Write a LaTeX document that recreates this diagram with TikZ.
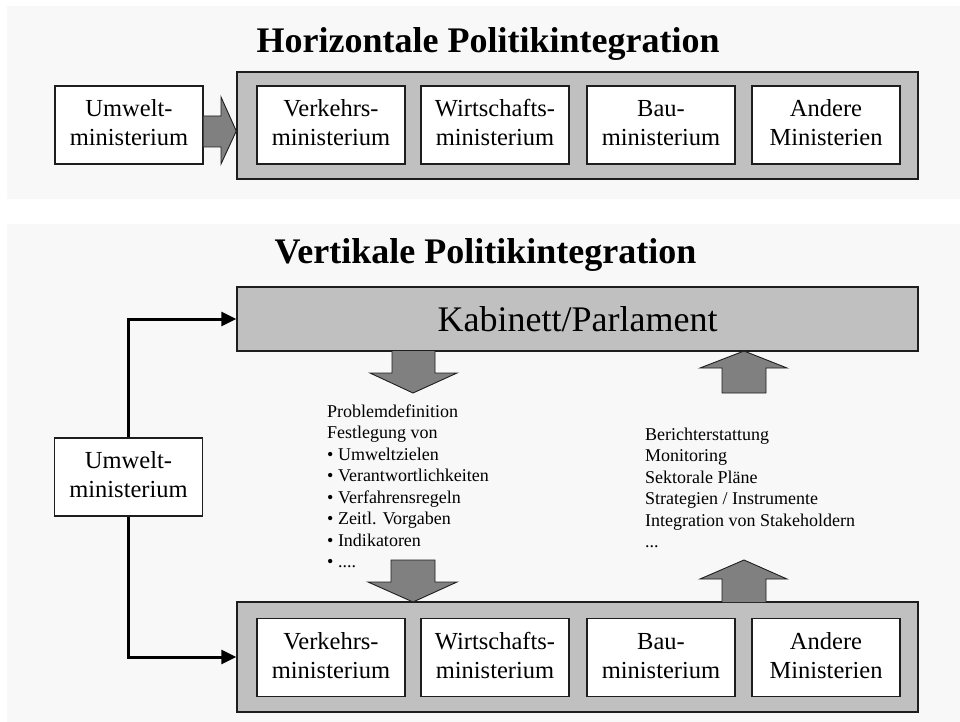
\documentclass[tikz,border=0pt]{standalone}
\usepackage{fontspec}
\setmainfont{Liberation Serif}
\usetikzlibrary{arrows.meta,calc}
\definecolor{panelbg}{HTML}{F8F8F8}
\definecolor{boxgray}{HTML}{C0C0C0}
\definecolor{arrowgray}{HTML}{808080}
\definecolor{edge}{HTML}{1E1E1E}
% two struts-aligned lines for the ministry boxes
\newcommand{\twolines}[2]{\rule[-7.5pt]{0pt}{27pt}#1\\\rule[-7.5pt]{0pt}{27pt}#2}
\begin{document}
\begin{tikzpicture}[x=1pt,y=-1pt,
  container/.style={draw=edge, fill=boxgray, line width=1.4pt, inner sep=0pt},
  ministry/.style={draw=edge, fill=white, line width=1.1pt, minimum width=148pt,
    minimum height=78pt, inner sep=0pt, align=center,
    font=\fontsize{24.5}{29}\selectfont},
  heading/.style={anchor=base, inner sep=0pt, font=\fontsize{36}{40}\selectfont\bfseries},
  blockarrow/.style={fill=arrowgray, draw=edge, line width=0.9pt, line join=miter},
  conn/.style={line width=3pt, draw=black, -{Triangle[length=15pt,width=14pt]}},
  listtext/.style={anchor=north west, align=left, inner sep=0pt,
    font=\fontsize{18}{21.5}\selectfont}]
\useasboundingbox (0,0) rectangle (960,722);

% background panels
\fill[panelbg] (7,6) rectangle (960,199);
\fill[panelbg] (7,224) rectangle (960,722);

% ---------------- horizontal integration ----------------
\node[heading] (htitle) at (488,53) {Horizontale Politikintegration};

\node[container, minimum width=681pt, minimum height=107pt] (hcont) at (577.5,125.5) {};
\node[ministry] (humw) at (129,125) {\twolines{Umwelt-}{ministerium}};
\node[ministry] (hverk) at (331,125) {\twolines{Verkehrs-}{ministerium}};
\node[ministry] (hwirt) at (495,125) {\twolines{Wirtschafts-}{ministerium}};
\node[ministry] (hbau)  at (661,125) {\twolines{Bau-}{ministerium}};
\node[ministry] (hand)  at (826,125) {\twolines{Andere}{Ministerien}};

% block arrow from the environment ministry into the group
\draw[blockarrow] (humw.east |- 0,116) -- (221,116) -- (221,97) -- (hcont.west |- 0,131)
  -- (221,164) -- (221,147) -- (humw.east |- 0,147);

% ---------------- vertical integration ----------------
\node[heading] (vtitle) at (485.5,263) {Vertikale Politikintegration};

\node[container, minimum width=681pt, minimum height=64pt,
  font=\fontsize{36}{40}\selectfont] (kab) at (577.5,319) {Kabinett/Parlament};

\node[container, minimum width=681pt, minimum height=110pt] (vcont) at (577.5,657) {};
\node[ministry] (vverk) at (331,657.5) {\twolines{Verkehrs-}{ministerium}};
\node[ministry] (vwirt) at (495,657.5) {\twolines{Wirtschafts-}{ministerium}};
\node[ministry] (vbau)  at (661,657.5) {\twolines{Bau-}{ministerium}};
\node[ministry] (vand)  at (826,657.5) {\twolines{Andere}{Ministerien}};

\node[ministry] (vumw) at (128.5,477) {\twolines{Umwelt-}{ministerium}};

% connectors from the environment ministry
\draw[conn] (vumw.north) |- (kab.west);
\draw[conn] (vumw.south) |- (vcont.west);

% downward block arrows
\draw[blockarrow] (392,351) -- (392,373) -- (370,373) -- (413,393) -- (457,373)
  -- (435,373) -- (435,351);
\draw[blockarrow] (391,560) -- (391,582) -- (368,582) -- (413,602) -- (457,582)
  -- (435,582) -- (435,560) -- cycle;

% upward block arrows
\draw[blockarrow] (722,393) -- (722,368) -- (700,368) -- (744,351) -- (787,368)
  -- (766,368) -- (766,393) -- cycle;
\draw[blockarrow] (722,602) -- (722,579) -- (700,579) -- (744,560) -- (787,579)
  -- (766,579) -- (766,602);

% texts between the levels
\node[listtext] (down) at (327,404.5) {Problemdefinition\\Festlegung von\\%
  • Umweltzielen\\• Verantwortlichkeiten\\• Verfahrensregeln\\%
  • Zeitl. Vorgaben\\• Indikatoren\\• ....};
\node[listtext] (up) at (645,427.7) {Berichterstattung\\Monitoring\\Sektorale Pläne\\%
  Strategien / Instrumente\\Integration von Stakeholdern\\...};
\end{tikzpicture}
\end{document}
